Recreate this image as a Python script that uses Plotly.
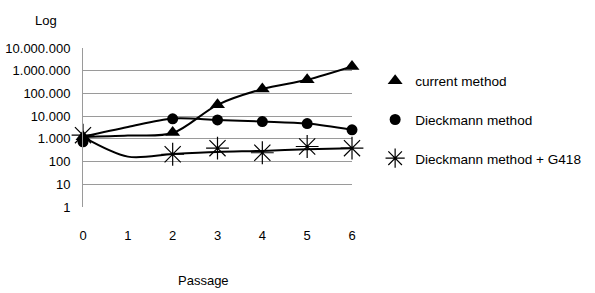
import plotly.graph_objects as go

# Passages at which each culture was counted (markers)
passage = [0, 2, 3, 4, 5, 6]

# Measured cell counts per method (log scale)
current_method = [1230, 1900, 31600, 155000, 400000, 1550000]
dieckmann_method = [740, 7600, 6800, 5800, 4700, 2500]
dieckmann_g418 = [1450, 210, 390, 245, 460, 390]

# Smoothed growth curves, one value per passage
curve_passage = [0, 1, 2, 3, 4, 5, 6]
current_curve = [1220, 1400, 1800, 31600, 155000, 400000, 1550000]
dieckmann_curve = [1220, 3300, 7800, 6800, 5800, 4700, 2500]
g418_curve = [1220, 165, 215, 265, 295, 350, 390]

# Axis ticks; y labels use dot thousands separators
y_tickvals = [1, 10, 100, 1000, 10000, 100000, 1000000, 10000000]
y_ticktext = ["1", "10", "100", "1.000", "10.000", "100.000", "1.000.000", "10.000.000"]
x_tickvals = [0, 1, 2, 3, 4, 5, 6]

series = [
    ("current method", current_method, current_curve,
     dict(symbol="triangle-up", size=13, color="black")),
    ("Dieckmann method", dieckmann_method, dieckmann_curve,
     dict(symbol="circle", size=11, color="black")),
    ("Dieckmann method + G418", dieckmann_g418, g418_curve,
     dict(symbol="asterisk-open", size=19, color="black", line=dict(color="black", width=1.2))),
]

fig = go.Figure()

# growth curves (kept out of the legend)
for name, _, curve, _ in series:
    fig.add_trace(go.Scatter(
        x=curve_passage, y=curve, mode="lines", showlegend=False, hoverinfo="skip",
        line=dict(color="black", width=2, shape="spline", smoothing=0.9),
        cliponaxis=False,
    ))

# measured points, which also make up the legend entries
for i, (name, vals, _, mk) in enumerate(series):
    fig.add_trace(go.Scatter(
        x=passage, y=vals, mode="markers", name=name, marker=mk,
        legendgroup=f"g{i}", cliponaxis=False,
    ))

font = dict(family="Liberation Sans, Arial, sans-serif", size=13, color="black")
legend_font = dict(family="Liberation Sans, Arial, sans-serif", size=13.6, color="black")

fig.update_layout(
    width=595, height=293,
    margin=dict(l=83, r=243, t=48, b=86, autoexpand=False),
    paper_bgcolor="white", plot_bgcolor="white",
    font=font,
    showlegend=True,
    legend=dict(
        x=1.086, xanchor="left", y=0.89, yanchor="top",
        tracegroupgap=18, font=legend_font, bgcolor="rgba(0,0,0,0)",
        itemsizing="trace",
    ),
    xaxis=dict(
        range=[0, 6], tickvals=x_tickvals, ticks="", showgrid=False,
        zeroline=False, showline=False, ticklabelstandoff=19,
        tickfont=font, automargin=False,
    ),
    yaxis=dict(
        type="log", range=[0, 7], tickvals=y_tickvals, ticktext=y_ticktext,
        ticks="", showgrid=True, gridcolor="#9a9a9a", gridwidth=1,
        zeroline=False, showline=True, linecolor="#9a9a9a", linewidth=1,
        ticklabelstandoff=9, tickfont=font, automargin=False,
    ),
    annotations=[
        dict(text="Log", xref="paper", yref="paper",
             x=(46 - 83) / 269, y=(207 - 20) / 159, showarrow=False,
             font=font, xanchor="center", yanchor="middle"),
        dict(text="Passage", xref="paper", yref="paper",
             x=(203 - 83) / 269, y=(207 - 280) / 159, showarrow=False,
             font=font, xanchor="center", yanchor="middle"),
    ],
)

fig.write_html("out.html")
